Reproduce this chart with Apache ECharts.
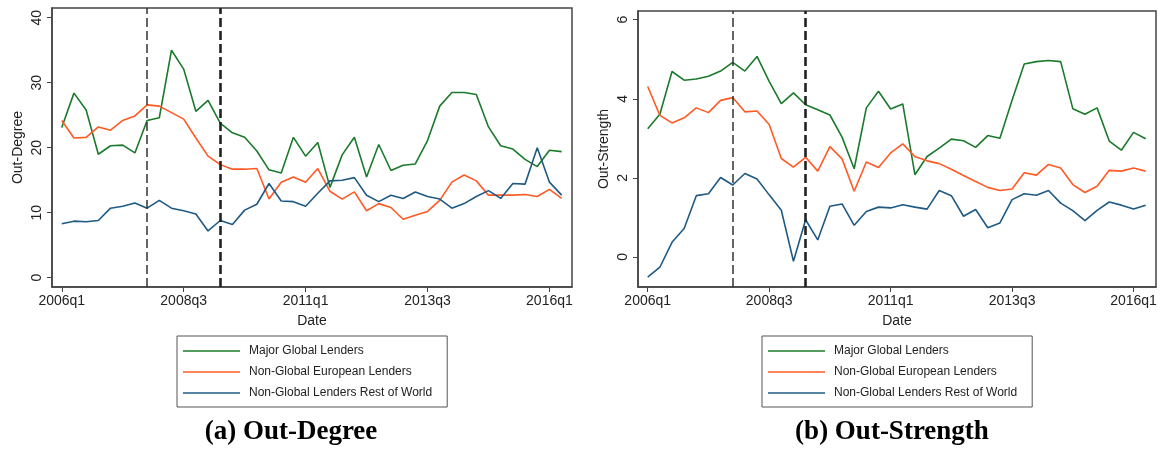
<!DOCTYPE html>
<html>
<head>
<meta charset="utf-8">
<script src="https://cdn.jsdelivr.net/npm/echarts@6/dist/echarts.min.js"></script>
<style>html,body{margin:0;padding:0;background:#fff;}#c{width:1161px;height:450px;}</style>
</head>
<body>
<div id="c"></div>
<script>
// Quarterly dates 2006q1 .. 2016q2 (index 0..41)
const startYear = 2006;
const xTickIdx = [0, 10, 20, 30, 40]; // 2006q1, 2008q3, 2011q1, 2013q3, 2016q1
const crisisLines = [7, 13];          // 2007q4, 2009q2
const seriesNames = ['Major Global Lenders', 'Non-Global European Lenders', 'Non-Global Lenders Rest of World'];

// (a) Out-Degree
const degMajor = [23.1,28.4,25.8,19.0,20.3,20.4,19.2,24.2,24.6,35.0,32.1,25.6,27.3,23.8,22.3,21.6,19.5,16.6,16.1,21.6,18.7,20.8,13.9,18.9,21.6,15.5,20.5,16.5,17.3,17.5,21.1,26.4,28.5,28.5,28.2,23.2,20.3,19.8,18.2,17.1,19.6,19.4];
const degEuro  = [24.2,21.5,21.6,23.2,22.7,24.2,24.9,26.6,26.4,25.4,24.4,21.5,18.7,17.4,16.7,16.7,16.8,12.1,14.7,15.5,14.7,16.8,13.3,12.1,13.2,10.3,11.4,10.8,9.0,9.6,10.2,11.9,14.7,15.8,14.9,12.7,12.7,12.7,12.8,12.5,13.6,12.2];
const degRow   = [8.3,8.7,8.6,8.8,10.7,11.0,11.5,10.7,11.9,10.7,10.3,9.8,7.2,8.8,8.2,10.4,11.3,14.5,11.8,11.7,11.0,13.0,14.9,15.0,15.4,12.7,11.7,12.7,12.2,13.2,12.5,12.1,10.7,11.4,12.5,13.4,12.2,14.5,14.4,20.0,14.7,12.7];
const degTicks = [0, 10, 20, 30, 40];

// (b) Out-Strength
const strMajor = [3.24,3.61,4.69,4.47,4.50,4.57,4.70,4.92,4.70,5.07,4.44,3.88,4.15,3.85,3.72,3.59,3.03,2.23,3.77,4.19,3.74,3.87,2.08,2.54,2.75,2.98,2.94,2.77,3.07,3.00,3.96,4.88,4.94,4.97,4.94,3.75,3.61,3.77,2.93,2.70,3.15,2.99];
const strEuro  = [4.31,3.58,3.39,3.52,3.77,3.65,3.96,4.03,3.67,3.69,3.35,2.49,2.27,2.52,2.17,2.79,2.48,1.66,2.40,2.26,2.63,2.86,2.54,2.43,2.36,2.22,2.06,1.91,1.76,1.68,1.72,2.13,2.07,2.34,2.25,1.83,1.63,1.79,2.19,2.17,2.25,2.17];
const strRow   = [-0.51,-0.26,0.37,0.72,1.55,1.60,2.01,1.82,2.11,1.97,1.57,1.18,-0.11,0.94,0.43,1.28,1.34,0.80,1.15,1.26,1.24,1.32,1.26,1.21,1.68,1.55,1.03,1.20,0.74,0.86,1.45,1.60,1.56,1.68,1.36,1.17,0.92,1.18,1.39,1.31,1.21,1.31];
const strTicks = [0, 2, 4, 6];

const colors = ['#1b7a2b', '#ff5a24', '#1f5a84'];
const FONT = '"Liberation Sans", Arial, sans-serif';

function qLabel(v) {
  const y = startYear + Math.floor(v / 4);
  return y + 'q' + (v % 4 + 1);
}
function pairs(arr) { return arr.map((v, i) => [i, v]); }

function xAxisFor(gi) {
  return {
    type: 'value', gridIndex: gi, min: -0.8, max: 41.85,
    name: 'Date', nameLocation: 'middle', nameGap: 27,
    nameTextStyle: { fontFamily: FONT, fontSize: 14, color: '#222' },
    axisLine: { show: true, onZero: false, lineStyle: { color: '#444', width: 1.5 } },
    axisTick: { show: true, inside: false, length: 5, lineStyle: { color: '#444', width: 1 }, customValues: xTickIdx },
    axisLabel: { fontFamily: FONT, fontSize: 14, color: '#222', margin: 7, customValues: xTickIdx, formatter: v => qLabel(Math.round(v)) },
    splitLine: { show: false }
  };
}
function yAxisFor(gi, min, max, ticks, name) {
  return {
    type: 'value', gridIndex: gi, min: min, max: max,
    name: name, nameLocation: 'middle', nameGap: 27, nameRotate: 90,
    nameTextStyle: { fontFamily: FONT, fontSize: 14, color: '#222' },
    axisLine: { show: true, onZero: false, lineStyle: { color: '#444', width: 1.5 } },
    axisTick: { show: true, inside: false, length: 5, lineStyle: { color: '#444', width: 1 }, customValues: ticks },
    axisLabel: { fontFamily: FONT, fontSize: 14, color: '#222', rotate: 90, margin: 8, customValues: ticks },
    splitLine: { show: false }
  };
}
function lineSeries(name, data, gi, ci, withMark) {
  const s = {
    name: name, type: 'line', xAxisIndex: gi, yAxisIndex: gi,
    data: pairs(data), symbol: 'none', showSymbol: false, silent: true, animation: false,
    lineStyle: { color: colors[ci], width: 1.6 }, itemStyle: { color: colors[ci] }
  };
  if (withMark) {
    s.markLine = {
      symbol: 'none', silent: true, animation: false,
      label: { show: false },
      lineStyle: { type: [9, 4], color: '#333' },
      data: [
        { xAxis: crisisLines[0], lineStyle: { width: 1.5, type: [9, 4], color: '#333' } },
        { xAxis: crisisLines[1], lineStyle: { width: 2.6, type: [9, 4], color: '#222' } }
      ]
    };
  }
  return s;
}
function legendFor(left, idx) {
  return {
    id: 'lg' + idx, orient: 'vertical', left: left, top: 336,
    data: seriesNames, icon: 'path://M0 0H100V3H0Z',
    itemWidth: 57, itemHeight: 14, itemGap: 9,
    padding: [9, 15, 8, 6], borderColor: '#555', borderWidth: 1,
    selectedMode: false,
    textStyle: { fontFamily: FONT, fontSize: 12, color: '#222', padding: [0, 0, 0, 4] }
  };
}

const chart = echarts.init(document.getElementById('c'), null, { renderer: 'canvas' });
chart.setOption({
  animation: false,
  backgroundColor: '#fff',
  grid: [
    { left: 52, top: 8, width: 520, height: 279, show: true, borderColor: '#444', borderWidth: 1.5, backgroundColor: '#fff' },
    { left: 638, top: 11, width: 518, height: 276, show: true, borderColor: '#444', borderWidth: 1.5, backgroundColor: '#fff' }
  ],
  xAxis: [xAxisFor(0), xAxisFor(1)],
  yAxis: [yAxisFor(0, -1.43, 41.5, degTicks, 'Out-Degree'), yAxisFor(1, -0.76, 6.22, strTicks, 'Out-Strength')],
  legend: [legendFor(177, 0), legendFor(762, 1)],
  title: [
    { text: '(a) Out-Degree', left: 286, top: 414, textAlign: 'center',
      textStyle: { fontFamily: '"Liberation Serif", "Times New Roman", serif', fontWeight: 'bold', fontSize: 27, color: '#000' } },
    { text: '(b) Out-Strength', left: 887, top: 414, textAlign: 'center',
      textStyle: { fontFamily: '"Liberation Serif", "Times New Roman", serif', fontWeight: 'bold', fontSize: 27, color: '#000' } }
  ],
  series: [
    lineSeries(seriesNames[0], degMajor, 0, 0, true),
    lineSeries(seriesNames[1], degEuro, 0, 1, false),
    lineSeries(seriesNames[2], degRow, 0, 2, false),
    lineSeries(seriesNames[0], strMajor, 1, 0, true),
    lineSeries(seriesNames[1], strEuro, 1, 1, false),
    lineSeries(seriesNames[2], strRow, 1, 2, false)
  ]
});
</script>
</body>
</html>
